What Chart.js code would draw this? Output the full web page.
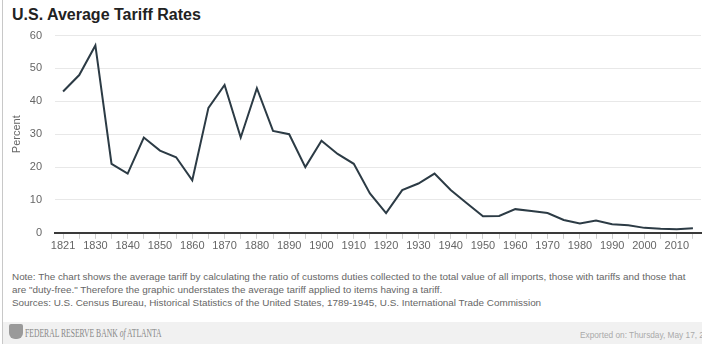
<!DOCTYPE html>
<html><head><meta charset="utf-8">
<script src="https://cdn.jsdelivr.net/npm/chart.js@4"></script>
<style>
html,body{margin:0;padding:0;background:#fff;}
body{width:702px;height:344px;position:relative;overflow:hidden;font-family:"Liberation Sans",Arial,sans-serif;}
#lb{position:absolute;left:2px;top:0;width:1px;height:344px;background:#c8c8c8;}
#title{position:absolute;left:12px;top:6px;font-size:16px;font-weight:bold;color:#222;}
#wrap{position:absolute;left:0;top:16px;width:702px;height:238px;}
#notes{position:absolute;left:12px;top:271px;font-size:9.9px;line-height:12.8px;color:#666;width:700px;white-space:nowrap;}
#footer{position:absolute;left:3px;top:322px;width:699px;height:22px;background:#f1f1f1;}
#logo{position:absolute;left:6px;top:2px;width:14px;height:15px;background:#9a9a9a;border-radius:2px 2px 6px 6px;}
#bank{position:absolute;left:22px;top:4px;font-family:"Liberation Serif","Times New Roman",serif;font-size:12.5px;color:#888;white-space:nowrap;transform:scaleX(0.61);transform-origin:left center;}
#exp{position:absolute;left:577px;top:8px;font-size:9px;color:#aaa;white-space:nowrap;transform:scaleX(0.92);transform-origin:left center;}
</style></head>
<body>
<div id="lb"></div>
<div id="title">U.S. Average Tariff Rates</div>
<div id="wrap"><canvas id="c"></canvas></div>
<div id="notes">Note: The chart shows the average tariff by calculating the ratio of customs duties collected to the total value of all imports, those with tariffs and those that<br>are "duty-free." Therefore the graphic understates the average tariff applied to items having a tariff.<br>Sources: U.S. Census Bureau, Historical Statistics of the United States, 1789-1945, U.S. International Trade Commission</div>
<div id="footer"><div id="logo"></div><div id="bank">FEDERAL RESERVE BANK <i>of</i> ATLANTA</div><div id="exp">Exported on: Thursday, May 17, 20</div></div>
<script>
const years = ["1821","1825","1830","1835","1840","1845","1850","1855","1860","1865","1870","1875","1880","1885","1890","1895","1900","1905","1910","1915","1920","1925","1930","1935","1940","1945","1950","1955","1960","1965","1970","1975","1980","1985","1990","1995","2000","2005","2010","2015"];
const tariffRates = [43,48,57,21,18,29,25,23,16,38,45,29,44,31,30,20,28,24,21,12,6,13,15,18,13,9,5,5.1,7.2,6.6,6,3.9,2.8,3.7,2.6,2.3,1.5,1.2,1.1,1.4];
const yTicks = [0,10,20,30,40,50,60];

new Chart(document.getElementById('c'), {
  type: 'line',
  data: { labels: years, datasets: [{ data: tariffRates, borderColor: '#2c3b45', borderWidth: 2, pointRadius: 0, tension: 0, fill: false }] },
  options: {
    responsive: true, maintainAspectRatio: false, animation: false,
    layout: { padding: { top: 0, right: 1, left: 10, bottom: 0 } },
    plugins: { legend: { display: false }, tooltip: { enabled: false } },
    scales: {
      x: {
        offset: true,
        grid: { drawOnChartArea: false, drawTicks: true, tickLength: 6, color: '#cfcfcf' },
        border: { color: '#3a3a3a', width: 2 },
        ticks: { autoSkip: false, maxRotation: 0, color: '#666', font: { family: 'Liberation Sans', size: 11 }, padding: 1,
          callback: function(v, i) { return i % 2 === 0 ? this.getLabelForValue(v) : ''; } }
      },
      y: {
        min: 0, max: 60,
        afterBuildTicks: s => { s.ticks = yTicks.map(v => ({ value: v })); },
        afterFit: s => { s.width = 45; },
        grid: { color: '#e8e8e8', drawTicks: false, lineWidth: 1 },
        border: { display: false },
        ticks: { color: '#666', font: { family: 'Liberation Sans', size: 11 }, padding: 13 },
        title: { display: true, text: 'Percent', color: '#666', font: { family: 'Liberation Sans', size: 11 }, padding: { top: 0, bottom: 0 } }
      }
    }
  }
});
</script>
</body></html>
